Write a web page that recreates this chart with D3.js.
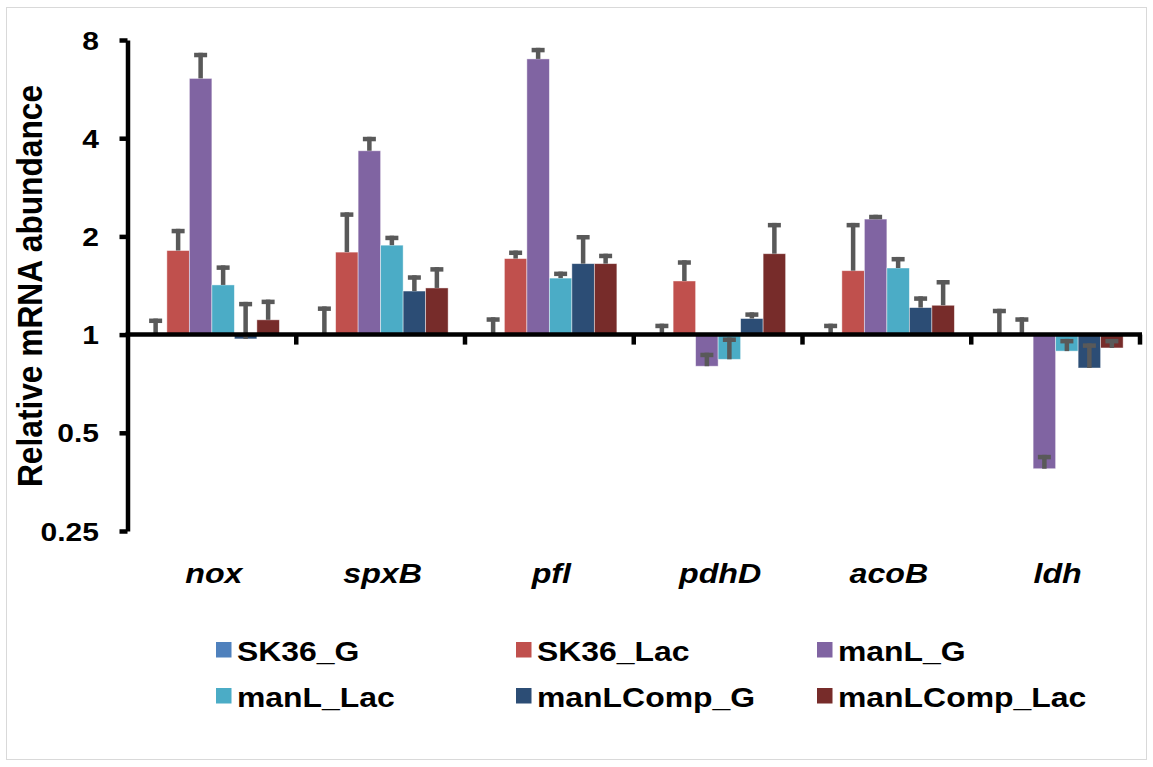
<!DOCTYPE html>
<html>
<head>
<meta charset="utf-8">
<script src="https://cdn.jsdelivr.net/npm/d3@7"></script>
<style>
  html, body { margin: 0; padding: 0; background: #fff; }
  svg { display: block; font-family: "Liberation Sans", Arial, sans-serif; }
</style>
</head>
<body>
<svg id="chart" width="1153" height="767"></svg>
<script>
// Genes on the x axis
const genes = ["nox", "spxB", "pfl", "pdhD", "acoB", "ldh"];

// Strains / growth conditions
const seriesNames = ["SK36_G", "SK36_Lac", "manL_G", "manL_Lac", "manLComp_G", "manLComp_Lac"];
const seriesColors = ["#4F81BD", "#C0504D", "#8064A2", "#4BACC6", "#2C4D75", "#772C2A"];

// Relative mRNA abundance (fold vs. SK36_G) and upper error, per gene
const SK36_G           = [1.00, 1.00, 1.00, 1.00, 1.00, 1.00];
const SK36_G_err       = [0.12, 0.22, 0.13, 0.08, 0.08, 0.20];
const SK36_Lac         = [1.81, 1.79, 1.71, 1.46, 1.57, 1.00];
const SK36_Lac_err     = [0.30, 0.58, 0.10, 0.23, 0.63, 0.13];
const manL_G           = [6.10, 3.66, 7.00, 0.80, 2.26, 0.388];
const manL_G_err       = [1.21, 0.38, 0.57, 0.08, 0.07, 0.04];
const manL_Lac         = [1.42, 1.88, 1.49, 0.84, 1.60, 0.89];
const manL_Lac_err     = [0.21, 0.13, 0.07, 0.14, 0.13, 0.08];
const manLComp_G       = [0.97, 1.36, 1.65, 1.12, 1.21, 0.79];
const manLComp_G_err   = [0.29, 0.16, 0.37, 0.05, 0.10, 0.15];
const manLComp_Lac     = [1.11, 1.39, 1.65, 1.77, 1.23, 0.91];
const manLComp_Lac_err = [0.17, 0.22, 0.12, 0.43, 0.24, 0.06];

// Y axis ticks (log2 scale)
const yTicks = [0.25, 0.5, 1, 2, 4, 8];
const yTickLabels = ["0.25", "0.5", "1", "2", "4", "8"];

const seriesValues = [SK36_G, SK36_Lac, manL_G, manL_Lac, manLComp_G, manLComp_Lac];
const seriesErrors = [SK36_G_err, SK36_Lac_err, manL_G_err, manL_Lac_err, manLComp_G_err, manLComp_Lac_err];

const points = [];
genes.forEach((g, gi) => {
  seriesNames.forEach((s, si) => {
    points.push({ gene: g, series: s, si, value: seriesValues[si][gi], err: seriesErrors[si][gi] });
  });
});

const svg = d3.select("#chart");

// outer frame
svg.append("rect")
  .attr("x", 6.5).attr("y", 7.5).attr("width", 1140).attr("height", 752)
  .attr("fill", "#fff").attr("stroke", "#d9d9d9").attr("stroke-width", 1);

const axisX = 127.5;
const x0 = d3.scaleBand().domain(genes).range([axisX, 1140]).paddingInner(0).paddingOuter(0);
const x1 = d3.scaleBand().domain(seriesNames).range([0, x0.bandwidth()]).paddingInner(0).paddingOuter(0.75);
const y = d3.scaleLog().base(2).domain([0.25, 8]).range([531, 40]);
const base = y(1);
const color = d3.scaleOrdinal().domain(seriesNames).range(seriesColors);

// bars, grown from the 1-fold baseline
svg.append("g").selectAll("rect")
  .data(points)
  .join("rect")
  .attr("x", d => x0(d.gene) + x1(d.series))
  .attr("width", x1.bandwidth())
  .attr("y", d => Math.min(y(d.value), base))
  .attr("height", d => Math.abs(y(d.value) - base))
  .attr("fill", d => color(d.series))
  .attr("stroke", "rgba(255,255,255,0.55)")
  .attr("stroke-width", 0.8);

// error bars (upper direction)
const errColor = "#595959";
const eb = svg.append("g").selectAll("g")
  .data(points)
  .join("g")
  .attr("transform", d => `translate(${x0(d.gene) + x1(d.series) + x1.bandwidth() / 2},0)`);
eb.append("rect")
  .attr("x", -2.25).attr("width", 4.5)
  .attr("y", d => y(d.value + d.err))
  .attr("height", d => y(d.value) - y(d.value + d.err))
  .attr("fill", errColor);
eb.append("rect")
  .attr("x", -6.5).attr("width", 13)
  .attr("y", d => y(d.value + d.err))
  .attr("height", 4.5)
  .attr("fill", errColor);

// y axis
const yAxis = svg.append("g")
  .attr("transform", `translate(${axisX},0)`)
  .call(d3.axisLeft(y).tickValues(yTicks).tickFormat((d, i) => yTickLabels[i]).tickSize(8).tickSizeOuter(0));
yAxis.select(".domain").attr("stroke", "#000").attr("stroke-width", 4.5);
yAxis.selectAll(".tick line").attr("stroke", "#000").attr("stroke-width", 4.5);
yAxis.selectAll(".tick text")
  .attr("x", 0).attr("dy", "0.36em")
  .attr("transform", "translate(-28.5,0) scale(1.2,1)")
  .attr("fill", "#000")
  .style("font-size", "25px").style("font-weight", "bold")
  .style("font-family", '"Liberation Sans", Arial, sans-serif');

// x axis line at 1-fold with ticks on category boundaries
const xAxis = svg.append("g");
xAxis.append("line")
  .attr("x1", x0.range()[0] - 2).attr("x2", x0.range()[1] + 2)
  .attr("y1", base).attr("y2", base)
  .attr("stroke", "#000").attr("stroke-width", 4.5);
xAxis.selectAll("line.tk")
  .data(genes)
  .join("line")
  .attr("class", "tk")
  .attr("x1", d => x0(d) + x0.bandwidth()).attr("x2", d => x0(d) + x0.bandwidth())
  .attr("y1", base).attr("y2", base + 10)
  .attr("stroke", "#000").attr("stroke-width", 4.5);

// gene labels
svg.append("g").selectAll("text")
  .data(genes)
  .join("text")
  .attr("transform", d => `translate(${x0(d) + x0.bandwidth() / 2 + 2},583) scale(1.15,1)`)
  .attr("text-anchor", "middle")
  .style("font-size", "28px").style("font-weight", "bold").style("font-style", "italic")
  .text(d => d);

// y axis title
svg.append("text")
  .attr("transform", "translate(42,286) scale(1.1,1) rotate(-90)")
  .attr("text-anchor", "middle")
  .style("font-size", "31.7px").style("font-weight", "bold")
  .text("Relative mRNA abundance");

// legend: 3 columns x 2 rows
const legendCols = [216, 516, 817];
const legendRows = [650, 696];
const lg = svg.append("g").selectAll("g")
  .data(seriesNames)
  .join("g")
  .attr("transform", (d, i) => `translate(${legendCols[i % 3]},${legendRows[Math.floor(i / 3)]})`);
lg.append("rect")
  .attr("x", 0).attr("y", -8).attr("width", 15.5).attr("height", 15.5)
  .attr("fill", d => color(d));
lg.append("text")
  .attr("transform", "translate(21,11) scale(1.14,1)")
  .style("font-size", "28px").style("font-weight", "bold")
  .text(d => d);
</script>
</body>
</html>
